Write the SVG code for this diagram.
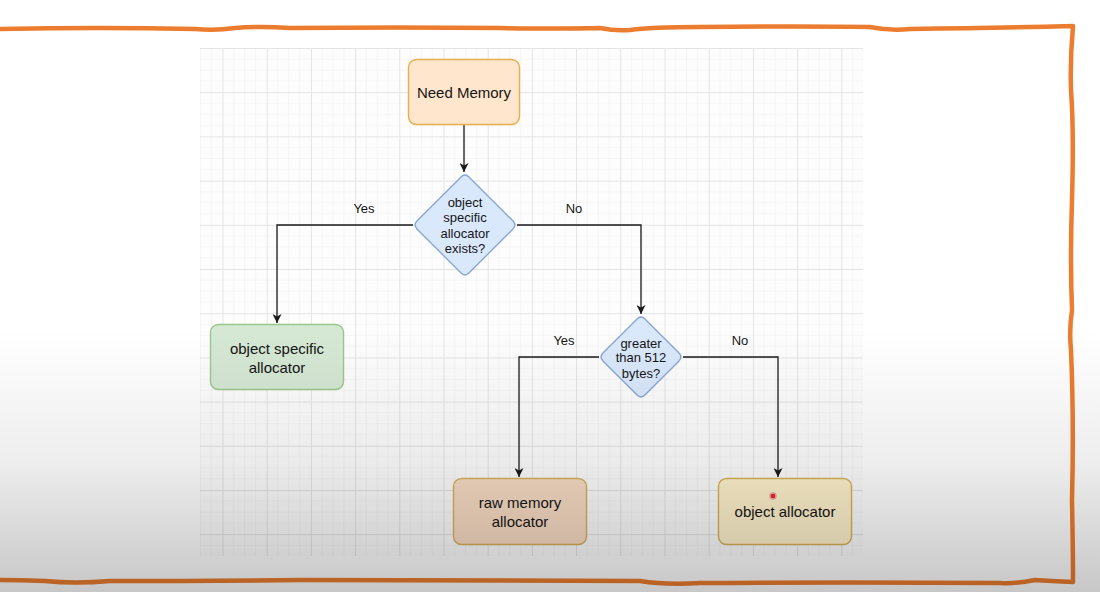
<svg xmlns="http://www.w3.org/2000/svg" width="1100" height="592" viewBox="0 0 1100 592">
  <style>
    .lbl { font-family: "Liberation Sans", Arial, sans-serif; fill: #151515; text-anchor: middle; }
    .node { font-size: 15px; }
    .dec { font-size: 13px; }
    .edge-lbl { font-size: 13px; }
    .conn { fill: none; stroke: #1a1a1a; stroke-width: 1.3; marker-end: url(#arrow); }
    .frame { fill: none; stroke: #ec7c2f; stroke-width: 4.5; stroke-linejoin: round; stroke-linecap: round; }
  </style>
  <defs>
    <!-- draw.io style canvas grid: major cells with 4 minor subdivisions -->
    <pattern id="grid" patternUnits="userSpaceOnUse" x="222.5" y="48" width="44.2" height="44.2">
      <path d="M11.05,0 V44.2 M22.1,0 V44.2 M33.15,0 V44.2 M0,11.05 H44.2 M0,22.1 H44.2 M0,33.15 H44.2" stroke="#f5f5f5" stroke-width="1" fill="none"/>
      <path d="M0.5,0 V44.2 M0,0.5 H44.2" stroke="#e4e4e4" stroke-width="1" fill="none"/>
    </pattern>
    <marker id="arrow" markerUnits="userSpaceOnUse" markerWidth="10" markerHeight="9" refX="9" refY="4.5" orient="auto">
      <path d="M0,0 L9,4.5 L0,9 L2.5,4.5 Z" fill="#1a1a1a"/>
    </marker>
    <!-- darkening toward the lower edge -->
    <linearGradient id="shade" gradientUnits="userSpaceOnUse" x1="0" y1="330" x2="0" y2="592">
      <stop offset="0" stop-color="#000" stop-opacity="0"/>
      <stop offset="0.5" stop-color="#000" stop-opacity="0.07"/>
      <stop offset="1" stop-color="#000" stop-opacity="0.22"/>
    </linearGradient>
  </defs>

  <rect x="0" y="0" width="1100" height="592" fill="#ffffff"/>

  <!-- canvas -->
  <rect x="200" y="48" width="663" height="508" fill="#fdfdfd"/>
  <rect x="200" y="48" width="663" height="508" fill="url(#grid)"/>

  <!-- connectors -->
  <g id="connectors">
    <path class="conn" d="M464,125 V172"/>
    <path class="conn" d="M413,225 H277 V323"/>
    <path class="conn" d="M517,225 H641 V314"/>
    <path class="conn" d="M599,357 H519 V477"/>
    <path class="conn" d="M683,357 H778 V477"/>
    <text class="lbl edge-lbl" x="364" y="212.5">Yes</text>
    <text class="lbl edge-lbl" x="574" y="212.5">No</text>
    <text class="lbl edge-lbl" x="564" y="344.5">Yes</text>
    <text class="lbl edge-lbl" x="740" y="344.5">No</text>
  </g>

  <g id="need-memory">
    <rect x="408.5" y="59.5" width="111" height="65" rx="8" fill="#ffe6cc" stroke="#e3b04b" stroke-width="1.4"/>
    <text class="lbl node" x="464" y="97.5">Need Memory</text>
  </g>

  <g id="allocator-exists">
    <path d="M460.8,177.2 Q465,173 469.2,177.2 L512.8,220.8 Q517,225 512.8,229.2 L469.2,272.8 Q465,277 460.8,272.8 L417.2,229.2 Q413,225 417.2,220.8 Z" fill="#dae8fc" stroke="#8aa6d6" stroke-width="1.4"/>
    <text class="lbl dec" x="465" y="206.5">object</text>
    <text class="lbl dec" x="465" y="222">specific</text>
    <text class="lbl dec" x="465" y="237.5">allocator</text>
    <text class="lbl dec" x="465" y="253">exists?</text>
  </g>

  <g id="object-specific-allocator">
    <rect x="210.5" y="324.5" width="133" height="65" rx="8" fill="#d5e8d4" stroke="#9cc78a" stroke-width="1.4"/>
    <text class="lbl node" x="277" y="354">object specific</text>
    <text class="lbl node" x="277" y="373">allocator</text>
  </g>

  <g id="greater-than-512">
    <path d="M636.8,319.2 Q641,315 645.2,319.2 L678.8,352.8 Q683,357 678.8,361.2 L645.2,394.8 Q641,399 636.8,394.8 L603.2,361.2 Q599,357 603.2,352.8 Z" fill="#dae8fc" stroke="#8aa6d6" stroke-width="1.4"/>
    <text class="lbl dec" x="641" y="347.5">greater</text>
    <text class="lbl dec" x="641" y="362">than 512</text>
    <text class="lbl dec" x="641" y="377.5">bytes?</text>
  </g>

  <g id="raw-memory-allocator">
    <rect x="453.5" y="478.5" width="133" height="66" rx="8" fill="#f8dcc4" stroke="#d9b259" stroke-width="1.4"/>
    <text class="lbl node" x="520" y="508">raw memory</text>
    <text class="lbl node" x="520" y="527">allocator</text>
  </g>

  <g id="object-allocator">
    <rect x="718.5" y="478.5" width="133" height="66" rx="8" fill="#fff2cc" stroke="#d9b259" stroke-width="1.4"/>
    <text class="lbl node" x="785" y="517">object allocator</text>
  </g>

  <!-- pointer marker -->
  <circle cx="773" cy="496" r="3" fill="#e02a2a" stroke="#f5a3a3" stroke-width="1.5"/>

  <!-- hand-drawn frame -->
  <path class="frame" d="M-3,29 Q100,27 195,29 Q215,31 235,28 Q260,26 290,28 Q400,27 500,28 Q560,29 600,28 Q615,31 630,30 Q650,27 700,27 Q800,26 870,27 Q890,31 910,29 Q1000,28 1073,26 Q1070,60 1071,90 Q1074,130 1072,200 Q1070,260 1072,310 Q1069,330 1071,350 Q1074,420 1072,500 Q1073,550 1073,582 Q1050,581 1035,580 Q1015,584 1000,583 Q850,582 700,583 Q665,585 640,581 Q500,580 300,580 Q200,581 110,581 Q75,584 45,581 Q20,580 -3,580"/>

  <rect x="0" y="0" width="1100" height="592" fill="url(#shade)"/>
</svg>
